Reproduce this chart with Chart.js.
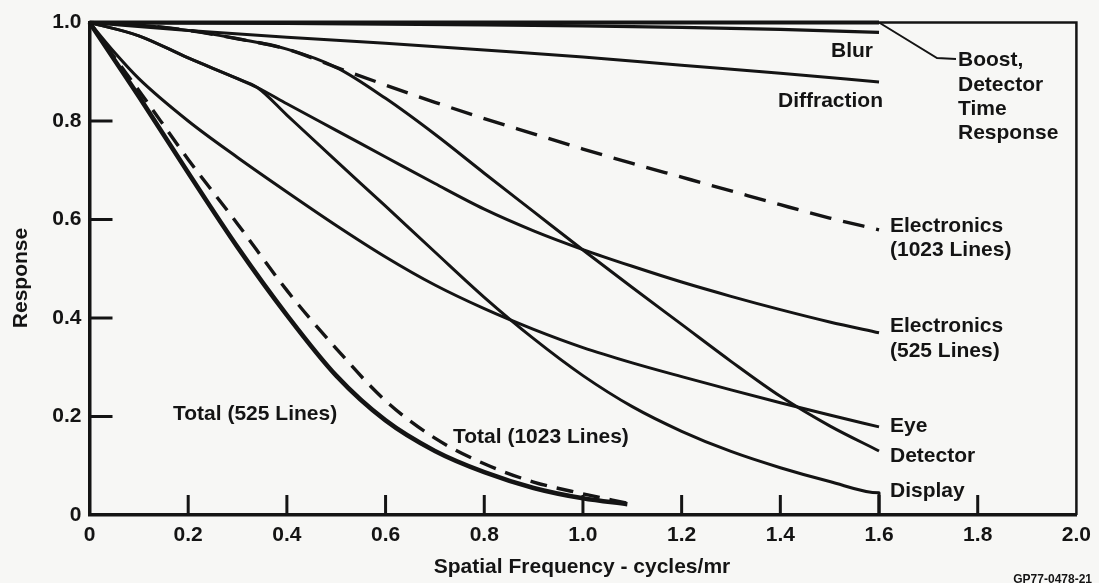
<!DOCTYPE html>
<html>
<head>
<meta charset="utf-8">
<script src="https://cdn.jsdelivr.net/npm/chart.js@4.4.1/dist/chart.umd.min.js"></script>
<style>
  html, body { margin: 0; padding: 0; background: #f7f7f5; }
  #wrap { width: 1099px; height: 583px; position: relative; }
  canvas { display: block; }
</style>
</head>
<body>
<div id="wrap"><canvas id="mtf" width="1099" height="583"></canvas></div>
<script>
// Modulation transfer of each component of the imaging chain, and the totals.
const xTickValues = [0, 0.2, 0.4, 0.6, 0.8, 1.0, 1.2, 1.4, 1.6, 1.8, 2.0];
const yTickValues = [0, 0.2, 0.4, 0.6, 0.8, 1.0];

const grid = [0, 0.1, 0.2, 0.3, 0.4, 0.5, 0.6, 0.7, 0.8, 0.9, 1.0, 1.1, 1.2, 1.3, 1.4, 1.5, 1.6];

const boostFreq = [0, 1.6];
const boostResp = [1.0, 1.0];

const blurFreq = [0, 0.4, 0.8, 1.0, 1.2, 1.4, 1.6];
const blurResp = [1.0, 0.998, 0.995, 0.993, 0.990, 0.986, 0.980];

const diffFreq = [0, 0.2, 0.4, 0.6, 0.8, 1.0, 1.2, 1.4, 1.6];
const diffResp = [1.0, 0.984, 0.970, 0.958, 0.944, 0.930, 0.913, 0.897, 0.879];

const detectorResp = [1.0, 0.995, 0.984, 0.967, 0.946, 0.909, 0.846, 0.773, 0.694, 0.616, 0.538, 0.462, 0.387, 0.312, 0.241, 0.181, 0.130];
const elec1023Resp = [1.0, 0.995, 0.984, 0.967, 0.946, 0.909, 0.873, 0.838, 0.805, 0.774, 0.743, 0.714, 0.686, 0.658, 0.630, 0.603, 0.579];

const elec525Freq = [0, 0.1, 0.2, 0.3, 0.34, 0.4, 0.5, 0.6, 0.7, 0.8, 0.9, 1.0, 1.1, 1.2, 1.3, 1.4, 1.5, 1.6];
const elec525Resp = [1.0, 0.973, 0.928, 0.886, 0.868, 0.835, 0.781, 0.727, 0.673, 0.621, 0.577, 0.539, 0.505, 0.473, 0.444, 0.417, 0.392, 0.370];

const displayFreq = [0, 0.1, 0.2, 0.3, 0.34, 0.4, 0.5, 0.6, 0.7, 0.8, 0.9, 1.0, 1.1, 1.2, 1.3, 1.4, 1.5, 1.6, 1.6];
const displayResp = [1.0, 0.973, 0.928, 0.886, 0.868, 0.812, 0.719, 0.627, 0.534, 0.442, 0.358, 0.283, 0.220, 0.170, 0.129, 0.096, 0.068, 0.045, 0];

const eyeFreq = [0, 0.05, 0.1, 0.2, 0.3, 0.4, 0.5, 0.6, 0.7, 0.8, 0.9, 1.0, 1.1, 1.2, 1.3, 1.4, 1.5, 1.6];
const eyeResp = [1.0, 0.940, 0.886, 0.800, 0.726, 0.656, 0.588, 0.524, 0.467, 0.419, 0.377, 0.340, 0.309, 0.281, 0.254, 0.228, 0.203, 0.179];

const totalFreq = [0, 0.05, 0.1, 0.2, 0.3, 0.4, 0.5, 0.6, 0.7, 0.8, 0.9, 1.0, 1.09];
const total525Resp = [1.0, 0.925, 0.850, 0.695, 0.544, 0.406, 0.283, 0.192, 0.130, 0.087, 0.055, 0.034, 0.022];
const total1023Resp = [1.0, 0.930, 0.862, 0.722, 0.591, 0.456, 0.338, 0.232, 0.156, 0.104, 0.067, 0.043, 0.024];

const INK = '#141414';
const FONT = "'Liberation Sans', Arial, sans-serif";
const TEXT_SIZE = 21;

function pts(xs, ys) { return xs.map((x, i) => ({ x: x, y: ys[i] })); }

function curve(label, xs, ys, width, dash) {
  return {
    label: label,
    data: pts(xs, ys),
    borderColor: INK,
    borderWidth: width,
    borderDash: dash || [],
    borderJoinStyle: 'round',
    pointRadius: 0,
    fill: false,
    cubicInterpolationMode: 'monotone',
    clip: false
  };
}

const datasets = [
  curve('Boost, Detector Time Response', boostFreq, boostResp, 4),
  curve('Blur', blurFreq, blurResp, 3.2),
  curve('Diffraction', diffFreq, diffResp, 3),
  curve('Detector', grid, detectorResp, 3),
  curve('Electronics (1023 Lines)', grid, elec1023Resp, 3.4, [22, 12]),
  curve('Electronics (525 Lines)', elec525Freq, elec525Resp, 3),
  curve('Display', displayFreq, displayResp, 3),
  curve('Eye', eyeFreq, eyeResp, 3),
  curve('Total (525 Lines)', totalFreq, total525Resp, 4.6),
  curve('Total (1023 Lines)', totalFreq, total1023Resp, 3.4, [17, 10])
];

// Text set beside the curves, with baseline positions.
const curveNotes = [
  { text: 'Blur', x: 873, y: 57, align: 'right' },
  { text: 'Diffraction', x: 883, y: 107, align: 'right' },
  { text: 'Boost,', x: 958, y: 66, align: 'left' },
  { text: 'Detector', x: 958, y: 91, align: 'left' },
  { text: 'Time', x: 958, y: 115, align: 'left' },
  { text: 'Response', x: 958, y: 139, align: 'left' },
  { text: 'Electronics', x: 890, y: 232, align: 'left' },
  { text: '(1023 Lines)', x: 890, y: 256, align: 'left' },
  { text: 'Electronics', x: 890, y: 332, align: 'left' },
  { text: '(525 Lines)', x: 890, y: 357, align: 'left' },
  { text: 'Eye', x: 890, y: 432, align: 'left' },
  { text: 'Detector', x: 890, y: 462, align: 'left' },
  { text: 'Display', x: 890, y: 497, align: 'left' },
  { text: 'Total (525 Lines)', x: 173, y: 420, align: 'left' },
  { text: 'Total (1023 Lines)', x: 453, y: 443, align: 'left' }
];

const framePlugin = {
  id: 'frame',
  afterDraw(chart) {
    const ctx = chart.ctx;
    const a = chart.chartArea;
    const xs = chart.scales.x, ys = chart.scales.y;
    ctx.save();
    ctx.strokeStyle = INK;
    ctx.lineCap = 'butt';

    // top and right edges of the plot box
    ctx.lineWidth = 2.5;
    ctx.beginPath();
    ctx.moveTo(a.left, a.top);
    ctx.lineTo(a.right, a.top);
    ctx.lineTo(a.right, a.bottom);
    ctx.stroke();

    // tick marks pointing into the plot
    ctx.lineWidth = 3;
    xTickValues.forEach(v => {
      if (v <= 0 || v >= 2.0) return;
      const px = xs.getPixelForValue(v);
      ctx.beginPath();
      ctx.moveTo(px, a.bottom);
      ctx.lineTo(px, a.bottom - 20);
      ctx.stroke();
    });
    yTickValues.forEach(v => {
      if (v <= 0 || v >= 1.0) return;
      const py = ys.getPixelForValue(v);
      ctx.beginPath();
      ctx.moveTo(a.left, py);
      ctx.lineTo(a.left + 23, py);
      ctx.stroke();
    });

    // leader from the end of the boost curve to its note
    const bx = xs.getPixelForValue(1.6), by = ys.getPixelForValue(1.0);
    ctx.lineWidth = 2;
    ctx.beginPath();
    ctx.moveTo(bx, by);
    ctx.lineTo(937, 58);
    ctx.lineTo(956, 59);
    ctx.stroke();

    // notes
    ctx.fillStyle = INK;
    ctx.font = 'bold ' + TEXT_SIZE + 'px ' + FONT;
    ctx.textBaseline = 'alphabetic';
    curveNotes.forEach(n => {
      ctx.textAlign = n.align;
      ctx.fillText(n.text, n.x, n.y);
    });

    // axis titles
    ctx.textAlign = 'center';
    ctx.fillText('Spatial Frequency - cycles/mr', 582, 573);
    ctx.save();
    ctx.translate(27, 278);
    ctx.rotate(-Math.PI / 2);
    ctx.fillText('Response', 0, 0);
    ctx.restore();

    // figure number
    ctx.font = 'bold 12px ' + FONT;
    ctx.textAlign = 'right';
    ctx.fillText('GP77-0478-21', 1092, 583);
    ctx.restore();
  }
};

function fmt(v) { return v === 0 ? '0' : Number(v).toFixed(1); }

new Chart(document.getElementById('mtf'), {
  type: 'line',
  data: { datasets: datasets },
  options: {
    responsive: false,
    animation: false,
    devicePixelRatio: 1,
    layout: { padding: { left: 0, right: 20.5, top: 22.5, bottom: 0 } },
    plugins: { legend: { display: false }, tooltip: { enabled: false }, title: { display: false } },
    scales: {
      x: {
        type: 'linear',
        min: 0, max: 2.0,
        afterBuildTicks(scale) { scale.ticks = xTickValues.map(v => ({ value: v })); },
        afterFit(scale) { scale.height = 68; },
        grid: { display: false, drawTicks: false },
        border: { display: true, color: INK, width: 3.5 },
        ticks: {
          padding: 8,
          color: INK,
          font: { family: FONT, size: TEXT_SIZE, weight: 'bold' },
          maxRotation: 0,
          autoSkip: false,
          callback: fmt
        }
      },
      y: {
        type: 'linear',
        min: 0, max: 1.0,
        afterBuildTicks(scale) { scale.ticks = yTickValues.map(v => ({ value: v })); },
        afterFit(scale) { scale.width = 89.5; },
        grid: { display: false, drawTicks: false },
        border: { display: true, color: INK, width: 3.5 },
        ticks: {
          padding: 8,
          color: INK,
          font: { family: FONT, size: TEXT_SIZE, weight: 'bold' },
          autoSkip: false,
          callback: fmt
        }
      }
    }
  },
  plugins: [framePlugin]
});
</script>
</body>
</html>
